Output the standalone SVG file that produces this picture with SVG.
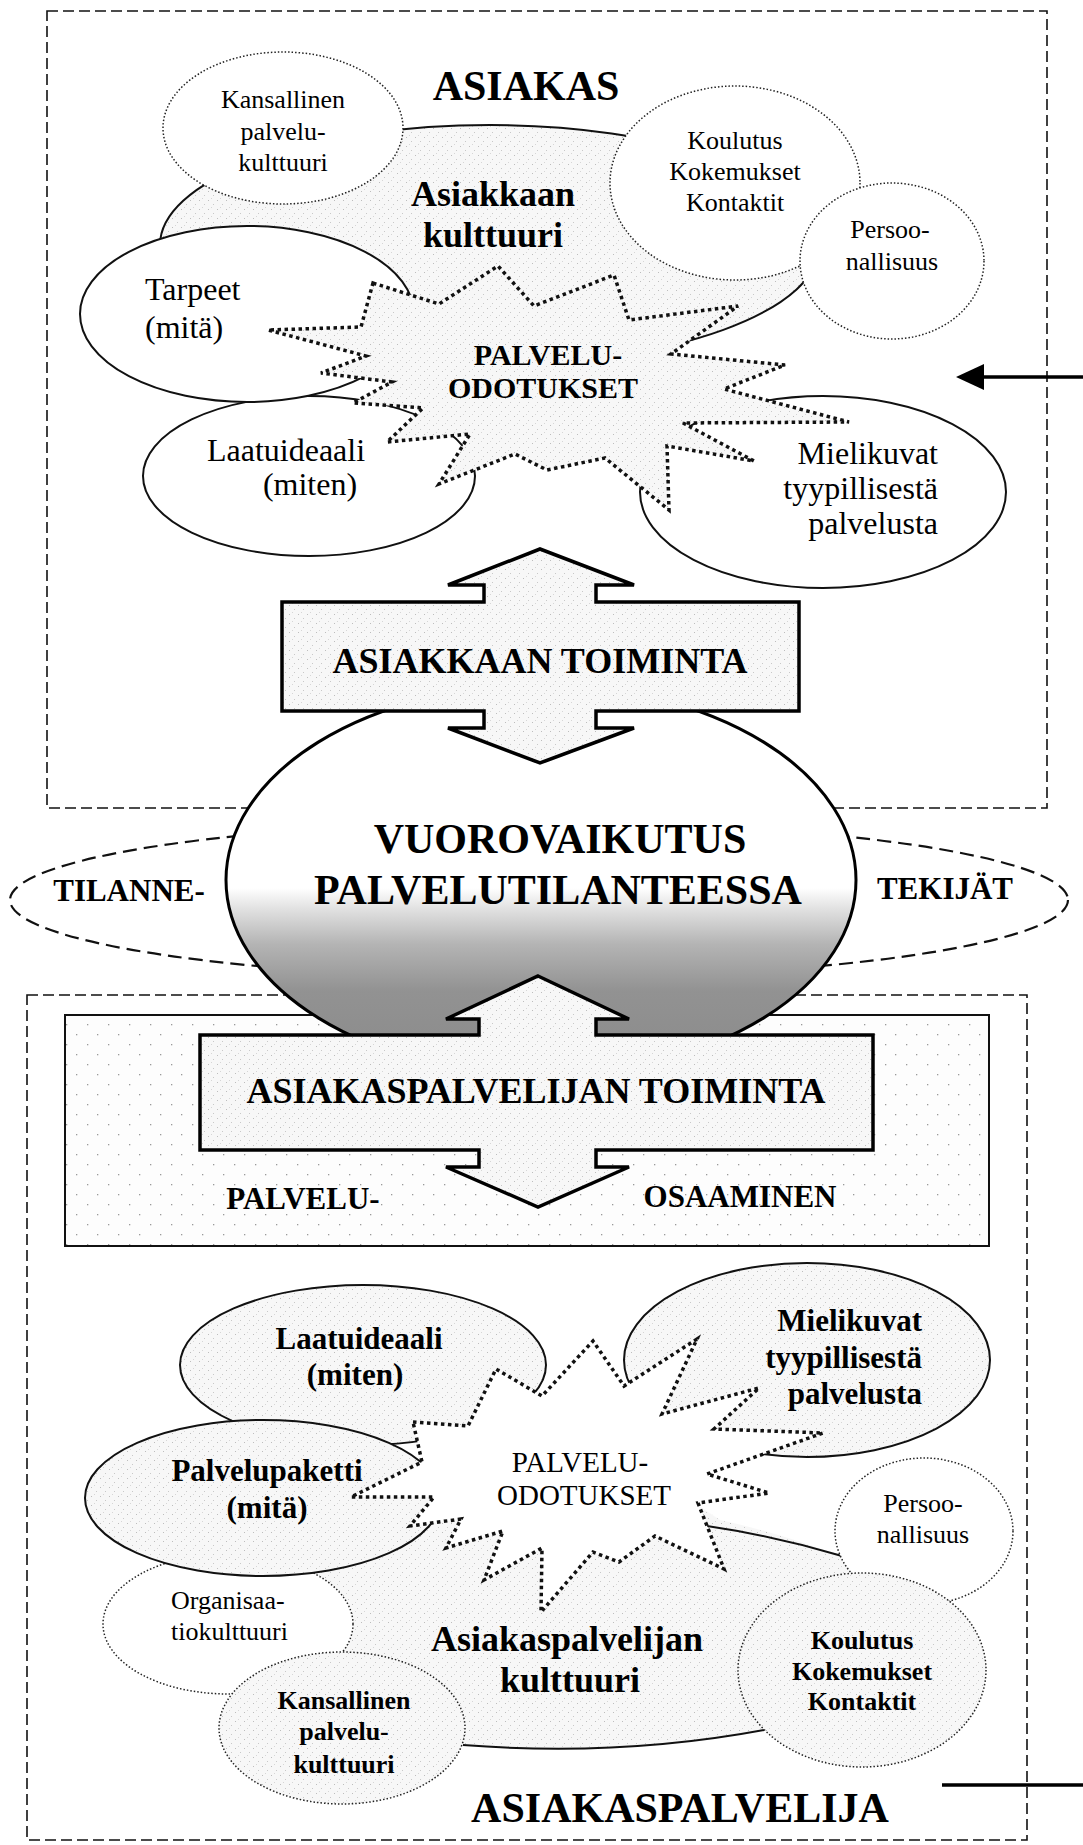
<svg xmlns="http://www.w3.org/2000/svg" width="1083" height="1845" viewBox="0 0 1083 1845">
<defs>
<style>
.t{font-family:"Liberation Serif","Times New Roman",serif;fill:#000}
.b{font-weight:bold}
.m{text-anchor:middle}
.e{text-anchor:end}
.box{fill:none;stroke:#111;stroke-width:1.6;stroke-dasharray:11 5}
.sol{stroke:#111;stroke-width:2}
.dot{stroke:#222;stroke-width:1.5;stroke-dasharray:1.5 2}
.star{stroke:#111;stroke-width:3.5;stroke-dasharray:3.5 3.5}
.arr{fill:url(#speck);stroke:#000;stroke-width:3.5;stroke-linejoin:miter}
</style>
<pattern id="speck" width="9" height="9" patternUnits="userSpaceOnUse">
<rect width="9" height="9" fill="#f7f7f7"/>
<rect x="1" y="2" width="1" height="1" fill="#bdbdbd"/>
<rect x="6" y="6" width="1" height="1" fill="#c8c8c8"/>
<rect x="4" y="0" width="1" height="1" fill="#d6d6d6"/>
</pattern>
<pattern id="grid" width="21" height="20" patternUnits="userSpaceOnUse">
<rect width="21" height="20" fill="#fdfdfd"/>
<rect x="3" y="4" width="1.3" height="1.3" fill="#9a9a9a"/>
<rect x="13" y="14" width="1.3" height="1.3" fill="#9a9a9a"/>
</pattern>
<linearGradient id="grad" gradientUnits="userSpaceOnUse" x1="0" y1="888" x2="0" y2="1075">
<stop offset="0" stop-color="#ffffff"/>
<stop offset="0.1" stop-color="#e4e4e4"/>
<stop offset="0.3" stop-color="#b4b4b4"/>
<stop offset="0.55" stop-color="#929292"/>
<stop offset="1" stop-color="#8a8a8a"/>
</linearGradient>
</defs>
<rect width="1083" height="1845" fill="#fff"/>

<g id="asiakas-box">
<rect class="box" x="47" y="11" width="1000" height="797"/>
<text class="t b m" x="526" y="100" font-size="42">ASIAKAS</text>
</g>
<g id="asiakaspalvelija-box">
<rect class="box" x="27" y="995" width="1000" height="845"/>
<text class="t b m" x="680" y="1822" font-size="42">ASIAKASPALVELIJA</text>
</g>
<g id="palveluosaaminen">
<rect x="65" y="1015" width="924" height="231" fill="url(#grid)" stroke="#111" stroke-width="2"/>
<text class="t b m" x="303" y="1209" font-size="31">PALVELU-</text>
<text class="t b m" x="740" y="1207" font-size="31">OSAAMINEN</text>
</g>

<!-- upper section -->
<g id="asiakkaan-kulttuuri">
<ellipse cx="490" cy="245" rx="330" ry="120" fill="url(#speck)" class="sol"/>
</g>
<g id="kansallinen-top">
<ellipse cx="283" cy="128" rx="120" ry="76" fill="#fff" class="dot"/>
<text class="t m" font-size="26"><tspan x="283" y="108">Kansallinen</tspan><tspan x="283" y="139.5">palvelu-</tspan><tspan x="283" y="171">kulttuuri</tspan></text>
</g>
<g id="koulutus-top">
<ellipse cx="735" cy="183" rx="125" ry="97" fill="#fff" class="dot"/>
<text class="t m" font-size="26"><tspan x="735" y="149">Koulutus</tspan><tspan x="735" y="180">Kokemukset</tspan><tspan x="735" y="211">Kontaktit</tspan></text>
</g>
<g id="persoonallisuus-top">
<ellipse cx="892" cy="261" rx="92" ry="78" fill="#fff" class="dot"/>
<text class="t m" font-size="26"><tspan x="890" y="238">Persoo-</tspan><tspan x="892" y="270">nallisuus</tspan></text>
</g>
<text class="t b m" font-size="36"><tspan x="493" y="206">Asiakkaan</tspan><tspan x="493" y="247">kulttuuri</tspan></text>
<g id="laatuideaali-top">
<ellipse cx="309" cy="476" rx="166" ry="80" fill="#fff" class="sol"/>
<text class="t m" font-size="32"><tspan x="286" y="461">Laatuideaali</tspan><tspan x="310" y="495">(miten)</tspan></text>
</g>
<g id="tarpeet-top">
<ellipse cx="247" cy="314" rx="167" ry="88" fill="#fff" class="sol"/>
<text class="t" font-size="32"><tspan x="145" y="300">Tarpeet</tspan><tspan x="145" y="338">(mitä)</tspan></text>
</g>
<g id="mielikuvat-top">
<ellipse cx="823" cy="492" rx="183" ry="96" fill="#fff" class="sol"/>
<text class="t e" font-size="32"><tspan x="938" y="464">Mielikuvat</tspan><tspan x="938" y="499">tyypillisestä</tspan><tspan x="938" y="534">palvelusta</tspan></text>
</g>
<g id="palveluodotukset-top">
<polygon class="star" fill="url(#speck)" points="373,283 439,304 498,266 534,306 614,275 629,320 738,306 671,354 785,365 724,389 849,422 683,423 754,461 667,446 669,510 605,458 547,470 515,454 439,484 470,434 387,442 423,408 353,403 392,382 321,373 366,356 268,330 361,327"/>
<text class="t b m" font-size="30"><tspan x="548" y="365">PALVELU-</tspan><tspan x="543" y="398">ODOTUKSET</tspan></text>
</g>

<!-- lower section -->
<g id="asiakaspalvelijan-kulttuuri">
<path d="M690,1500 L720,1520 Q780,1533 840,1556 L905,1600 L900,1700 L762,1730 Q620,1756 463,1745 L340,1700 L250,1630 L330,1550 L440,1500 Z" fill="url(#speck)"/>
<path d="M707,1526 Q775,1536 842,1556" fill="none" class="sol"/>
<path d="M463,1745 Q620,1757 764,1730" fill="none" class="sol"/>
</g>
<g id="persoonallisuus-low">
<ellipse cx="924" cy="1531" rx="89" ry="73" fill="#fff" class="dot"/>
<text class="t m" font-size="26"><tspan x="923" y="1512">Persoo-</tspan><tspan x="923" y="1543">nallisuus</tspan></text>
</g>
<g id="koulutus-low">
<ellipse cx="862" cy="1670" rx="124" ry="97" fill="url(#speck)" class="dot"/>
<text class="t b m" font-size="26"><tspan x="862" y="1649">Koulutus</tspan><tspan x="862" y="1680">Kokemukset</tspan><tspan x="862" y="1710">Kontaktit</tspan></text>
</g>
<g id="organisaatiokulttuuri">
<ellipse cx="228" cy="1624" rx="125" ry="70" fill="#fff" class="dot"/>
<text class="t" font-size="26"><tspan x="171" y="1609">Organisaa-</tspan><tspan x="171" y="1640">tiokulttuuri</tspan></text>
</g>
<g id="kansallinen-low">
<ellipse cx="342" cy="1728" rx="123" ry="76" fill="url(#speck)" class="dot"/>
<text class="t b m" font-size="26"><tspan x="344" y="1709">Kansallinen</tspan><tspan x="344" y="1740">palvelu-</tspan><tspan x="344" y="1773">kulttuuri</tspan></text>
</g>
<text class="t b m" font-size="36"><tspan x="567" y="1651">Asiakaspalvelijan</tspan><tspan x="570" y="1692">kulttuuri</tspan></text>
<g id="laatuideaali-low">
<ellipse cx="363" cy="1365" rx="183" ry="80" fill="url(#speck)" class="sol"/>
<text class="t b m" font-size="31"><tspan x="359" y="1349">Laatuideaali</tspan><tspan x="355" y="1385">(miten)</tspan></text>
</g>
<g id="palvelupaketti">
<ellipse cx="263" cy="1498" rx="178" ry="78" fill="url(#speck)" class="sol"/>
<text class="t b m" font-size="31"><tspan x="267" y="1481">Palvelupaketti</tspan><tspan x="267" y="1518">(mitä)</tspan></text>
</g>
<g id="mielikuvat-low">
<ellipse cx="807" cy="1360" rx="183" ry="97" fill="url(#speck)" class="sol"/>
<text class="t b e" font-size="31"><tspan x="922" y="1331">Mielikuvat</tspan><tspan x="922" y="1368">tyypillisestä</tspan><tspan x="922" y="1404">palvelusta</tspan></text>
</g>
<g id="palveluodotukset-low">
<polygon class="star" fill="#fff" points="413,1422 468,1426 496,1369 542,1396 593,1341 624,1386 697,1339 662,1414 759,1388 714,1429 823,1433 707,1474 769,1493 698,1503 724,1569 655,1536 619,1562 593,1552 541,1612 542,1548 484,1580 503,1531 446,1548 461,1519 410,1526 434,1497 351,1497 422,1462"/>
<text class="t m" font-size="29"><tspan x="580" y="1472">PALVELU-</tspan><tspan x="584" y="1505">ODOTUKSET</tspan></text>
</g>

<!-- middle -->
<g id="tilannetekijat">
<ellipse cx="539" cy="900" rx="529" ry="78" fill="none" stroke="#111" stroke-width="2.2" stroke-dasharray="14 7"/>
<text class="t b m" x="129" y="901" font-size="31">TILANNE-</text>
<text class="t b m" x="945" y="899" font-size="31">TEKIJÄT</text>
</g>
<g id="vuorovaikutus">
<ellipse cx="541" cy="880" rx="315" ry="195" fill="url(#grad)" stroke="#000" stroke-width="3"/>
<text class="t b m" x="560" y="853" font-size="42">VUOROVAIKUTUS</text>
<text class="t b m" x="558" y="904" font-size="42">PALVELUTILANTEESSA</text>
</g>
<g id="asiakkaan-toiminta">
<polygon class="arr" points="540,549 634,585 596,585 596,602 799,602 799,711 596,711 596,728 634,728 540,763 448,728 484,728 484,711 282,711 282,602 484,602 484,585 448,585"/>
<text class="t b m" x="540" y="673" font-size="36">ASIAKKAAN TOIMINTA</text>
</g>
<g id="asiakaspalvelijan-toiminta">
<polygon class="arr" points="538,976 629,1019 596,1019 596,1035 873,1035 873,1150 596,1150 596,1167 629,1167 538,1207 446,1167 479,1167 479,1150 200,1150 200,1035 479,1035 479,1019 446,1019"/>
<text class="t b m" x="536" y="1103" font-size="36">ASIAKASPALVELIJAN TOIMINTA</text>
</g>

<g id="connectors">
<line x1="1083" y1="377" x2="980" y2="377" stroke="#000" stroke-width="3.5"/>
<polygon points="956,377 984,364 984,390" fill="#000"/>
<line x1="942" y1="1785" x2="1083" y2="1785" stroke="#000" stroke-width="3.5"/>
</g>
</svg>
